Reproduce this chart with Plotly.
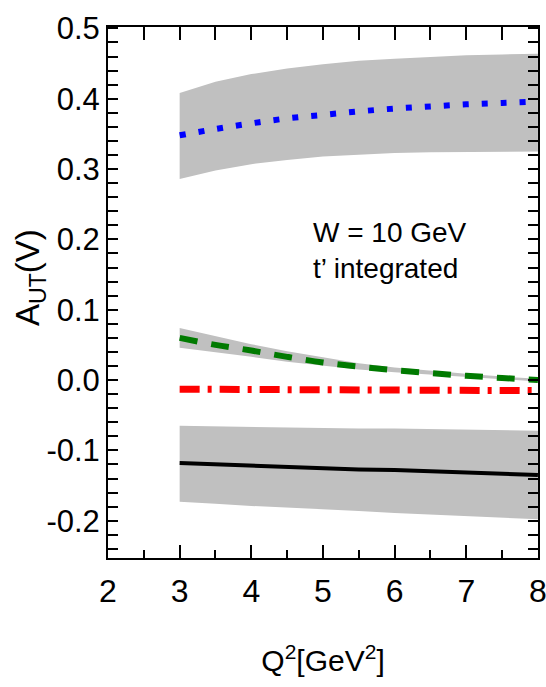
import plotly.graph_objects as go

q2 = [3, 3.5, 4, 4.5, 5, 5.5, 6, 6.5, 7, 7.5, 8]

blue = [0.348, 0.357, 0.365, 0.372, 0.377, 0.382, 0.386, 0.389, 0.392, 0.394, 0.396]
blue_hi = [0.408, 0.424, 0.435, 0.443, 0.449, 0.454, 0.457, 0.460, 0.462, 0.463, 0.464]
blue_lo = [0.286, 0.298, 0.307, 0.313, 0.318, 0.321, 0.323, 0.324, 0.325, 0.325, 0.325]

green = [0.060, 0.050, 0.042, 0.033, 0.025, 0.019, 0.014, 0.010, 0.006, 0.003, 0.000]
green_hi = [0.074, 0.062, 0.051, 0.041, 0.032, 0.024, 0.018, 0.013, 0.009, 0.005, 0.002]
green_lo = [0.046, 0.039, 0.033, 0.026, 0.020, 0.015, 0.011, 0.007, 0.004, 0.001, -0.002]

red = [-0.013, -0.013, -0.013, -0.0135, -0.014, -0.014, -0.014, -0.0145, -0.015, -0.015, -0.015]

black = [-0.118, -0.120, -0.122, -0.123, -0.125, -0.127, -0.128, -0.130, -0.132, -0.133, -0.135]
black_hi = [-0.065, -0.066, -0.066, -0.067, -0.068, -0.069, -0.069, -0.070, -0.071, -0.071, -0.072]
black_lo = [-0.173, -0.176, -0.179, -0.181, -0.184, -0.186, -0.189, -0.191, -0.193, -0.196, -0.198]

x_ticks = [2, 3, 4, 5, 6, 7, 8]
x_labels = ["2", "3", "4", "5", "6", "7", "8"]
y_ticks = [-0.2, -0.1, 0.0, 0.1, 0.2, 0.3, 0.4, 0.5]
y_labels = ["-0.2", "-0.1", "0.0", "0.1", "0.2", "0.3", "0.4", "0.5"]

XRANGE = [2, 8.001]
YRANGE = [-0.253, 0.502]
GRAY = "#c0c0c0"
SANS = "Liberation Sans, Arial"

fig = go.Figure()


def band(lo, hi):
    fig.add_trace(go.Scatter(x=q2 + q2[::-1], y=hi + lo[::-1], fill="toself",
                             fillcolor=GRAY, line=dict(width=0), mode="lines",
                             hoverinfo="skip", showlegend=False))


band(blue_lo, blue_hi)
band(green_lo, green_hi)
band(black_lo, black_hi)

fig.add_trace(go.Scatter(x=q2, y=blue, mode="lines", line_shape="spline",
                         line=dict(color="#0000ff", width=6, dash="6px,13px"), showlegend=False))
fig.add_trace(go.Scatter(x=q2, y=green, mode="lines", line_shape="spline",
                         line=dict(color="#007a00", width=6, dash="18px,14px"), showlegend=False))
fig.add_trace(go.Scatter(x=q2, y=red, mode="lines",
                         line=dict(color="#ff0000", width=7, dash="20px,8px,4px,8px"), showlegend=False))
fig.add_trace(go.Scatter(x=q2, y=black, mode="lines",
                         line=dict(color="#000000", width=4), showlegend=False))

# top axis overlay for top ticks
fig.add_trace(go.Scatter(x=[2], y=[0], xaxis="x2", mode="markers",
                         marker=dict(opacity=0), hoverinfo="skip", showlegend=False))

fig.update_layout(
    width=546, height=687,
    margin=dict(l=108, r=8, t=27, b=129),
    paper_bgcolor="white", plot_bgcolor="white",
    xaxis=dict(range=XRANGE, tickmode="array", tickvals=x_ticks, ticktext=x_labels,
               ticks="inside", ticklen=13, tickwidth=1.5, automargin=False,
               ticklabeloverflow="allow",
               tickcolor="black", showline=True, linecolor="black", linewidth=2, mirror=True,
               showgrid=False, zeroline=False, ticklabelstandoff=4,
               tickfont=dict(family=SANS, size=32, color="black"),
               minor=dict(dtick=0.5, tick0=2, ticks="inside", ticklen=8, tickwidth=1.5,
                          tickcolor="black"),
               title=dict(text="Q<sup>2</sup>[GeV<sup>2</sup>]", standoff=42,
                          font=dict(family=SANS, size=30, color="black"))),
    xaxis2=dict(range=XRANGE, overlaying="x", side="top", dtick=0.5, tick0=2, automargin=False,
                ticks="inside", ticklen=13, tickwidth=1.5, tickcolor="black",
                showticklabels=False, showgrid=False, zeroline=False, showline=False),
    yaxis=dict(range=YRANGE, tickmode="array", tickvals=y_ticks, ticktext=y_labels,
               ticks="inside", ticklen=10, automargin=False, ticklabeloverflow="allow",
               tickwidth=1.5, tickcolor="black", showline=True, linecolor="black", linewidth=2,
               mirror="allticks", showgrid=False, zeroline=False,
               tickfont=dict(family=SANS, size=31, color="black"),
               minor=dict(dtick=0.02, tick0=0, ticks="inside", ticklen=7, tickwidth=1.5,
                          tickcolor="black")),
    annotations=[
        dict(text="W = 10 GeV<br>t\u2019 integrated", x=0.5, y=0.5, xref="paper", yref="paper",
             showarrow=False, align="left", xanchor="left", yanchor="top",
             font=dict(family=SANS, size=28, color="black")),
        dict(text="A<sub>UT</sub>(V)", textangle=-90, x=0, y=0.5, xref="paper", yref="paper",
             showarrow=False, xanchor="center", yanchor="middle",
             font=dict(family=SANS, size=33, color="black")),
    ],
)

# convert pixel positions of the annotations to paper coords
plot_w = 546 - 108 - 8
plot_h = 687 - 27 - 129
fig.layout.annotations[0].x = (311 - 108) / plot_w
fig.layout.annotations[0].y = 1 - (215 - 27) / plot_h
fig.layout.annotations[1].x = (30 - 108) / plot_w
fig.layout.annotations[1].y = 1 - (278 - 27) / plot_h

fig.write_html("out.html")
